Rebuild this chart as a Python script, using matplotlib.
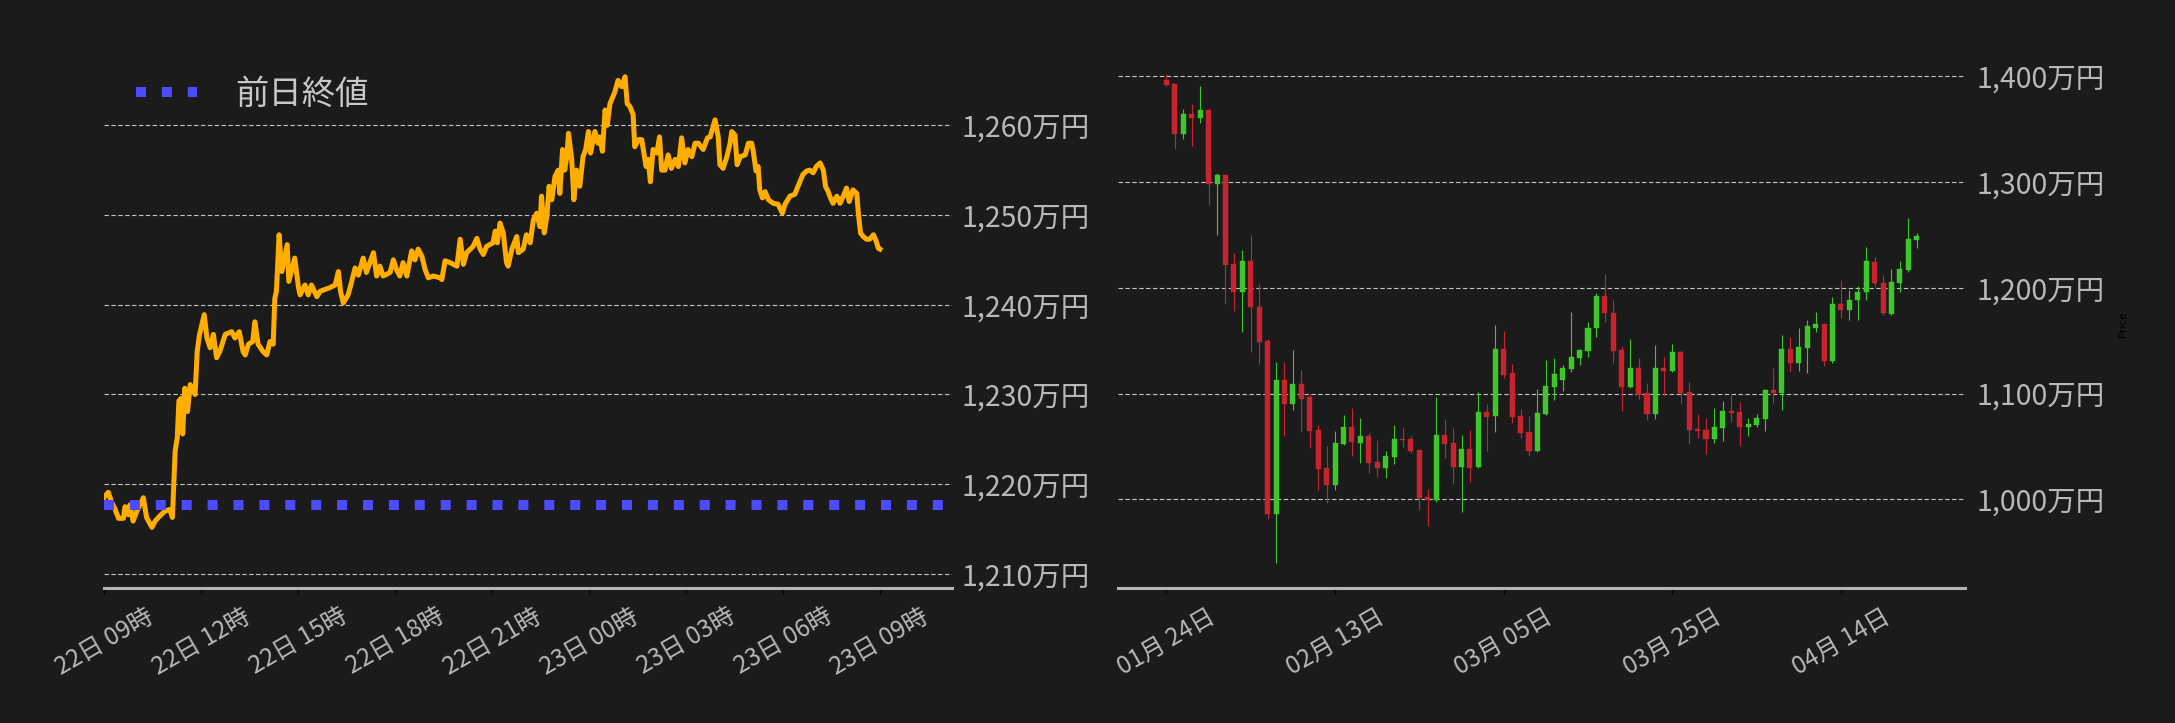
import matplotlib
matplotlib.use("Agg")
import matplotlib.pyplot as plt
import matplotlib.dates as mdates
import pandas as pd

plt.rcParams['font.family'] = ['Noto Sans CJK JP', 'DejaVu Sans']

# --- intraday (left) ---
line_start = "2025-04-22 09:00"
line_minutes = [
    0, 2, 8, 14, 20, 27, 36, 39, 45, 48, 54, 61, 73, 79, 89, 95, 104, 113, 122, 127,
    132, 136, 139, 144, 146, 150, 155, 160, 169, 173, 177, 186, 191, 197, 203, 209, 215, 225, 237, 243,
    251, 258, 262, 268, 276, 280, 286, 295, 302, 308, 314, 317, 320, 325, 330, 340, 343, 354, 361, 364,
    373, 379, 385, 395, 401, 419, 429, 435, 439, 444, 453, 458, 466, 472, 481, 487, 500, 506, 512, 518,
    531, 537, 543, 549, 555, 562, 571, 577, 583, 590, 596, 602, 611, 624, 627, 633, 642, 655, 661, 667,
    673, 685, 692, 698, 704, 710, 722, 726, 730, 735, 741, 747, 750, 757, 766, 769, 778, 784, 791, 797,
    803, 809, 812, 817, 822, 826, 831, 837, 843, 846, 851, 855, 859, 862, 865, 868, 872, 877, 883, 889,
    894, 899, 903, 911, 917, 920, 925, 930, 934, 939, 948, 954, 961, 967, 969, 971, 976, 982, 985, 992,
    998, 1001, 1006, 1010, 1014, 1019, 1026, 1031, 1035, 1041, 1047, 1053, 1060, 1066, 1072, 1078, 1084, 1091, 1097, 1103,
    1112, 1120, 1125, 1134, 1140, 1143, 1149, 1156, 1162, 1165, 1171, 1175, 1181, 1190, 1196, 1202, 1205, 1210, 1214, 1217,
    1222, 1227, 1233, 1242, 1251, 1259, 1264, 1273, 1282, 1288, 1297, 1304, 1310, 1316, 1322, 1329, 1335, 1339, 1344, 1347,
    1353, 1360, 1366, 1372, 1378, 1383, 1390, 1397, 1400, 1404, 1409, 1415, 1421, 1428, 1433, 1437, 1440,
]
line_prices = [
    1218.5, 1218.7, 1219.1, 1218.0, 1217.3, 1216.2, 1216.2, 1217.5, 1216.6, 1217.7, 1215.9, 1217.0, 1218.5, 1216.3, 1215.2, 1215.9, 1216.5, 1217.0, 1217.2, 1216.3,
    1223.7, 1225.2, 1229.3, 1229.6, 1225.6, 1230.7, 1228.1, 1231.1, 1230.0, 1234.8, 1236.6, 1238.9, 1236.3, 1235.2, 1236.7, 1234.1, 1234.8, 1236.7, 1237.0, 1236.3,
    1237.0, 1234.8, 1234.4, 1235.6, 1235.9, 1238.1, 1235.6, 1234.8, 1234.4, 1235.9, 1235.6, 1240.7, 1241.5, 1247.8, 1243.7, 1246.7, 1242.6, 1245.2, 1241.9, 1241.1,
    1242.2, 1241.1, 1242.2, 1240.9, 1241.5, 1241.9, 1242.2, 1243.7, 1241.5, 1240.2, 1241.1, 1242.2, 1244.1, 1243.3, 1245.2, 1243.6, 1245.8, 1243.2, 1244.3, 1243.2,
    1243.6, 1245.0, 1243.9, 1243.2, 1244.7, 1243.2, 1246.0, 1245.0, 1246.2, 1245.4, 1243.9, 1243.0, 1243.2, 1243.0, 1242.8, 1244.9, 1244.7, 1244.3, 1247.3, 1244.5,
    1245.8, 1246.5, 1247.4, 1246.2, 1245.6, 1246.5, 1246.9, 1248.2, 1246.9, 1249.1, 1248.0, 1244.7, 1244.3, 1246.2, 1247.6, 1245.8, 1246.2, 1247.8, 1246.9, 1249.5,
    1250.2, 1248.7, 1252.1, 1248.0, 1249.9, 1253.2, 1251.7, 1254.3, 1255.0, 1252.4, 1257.3, 1255.0, 1256.5, 1259.1, 1257.6, 1256.2, 1251.7, 1255.0, 1253.2, 1256.5,
    1257.3, 1259.3, 1256.9, 1259.3, 1258.0, 1258.7, 1257.1, 1261.7, 1260.0, 1262.4, 1263.7, 1265.0, 1264.3, 1265.4, 1263.9, 1262.4, 1262.1, 1261.2, 1257.6, 1258.4,
    1258.4, 1257.3, 1255.4, 1256.2, 1253.7, 1257.3, 1256.9, 1258.7, 1255.0, 1255.0, 1256.7, 1255.2, 1256.2, 1255.4, 1258.6, 1255.8, 1257.3, 1256.5, 1258.0, 1258.0,
    1257.3, 1258.6, 1258.7, 1260.6, 1258.7, 1255.6, 1255.2, 1256.5, 1258.0, 1259.3, 1258.9, 1255.6, 1256.5, 1256.7, 1258.0, 1258.0, 1257.1, 1254.9, 1255.4, 1252.8,
    1251.9, 1252.6, 1251.7, 1251.3, 1251.2, 1250.2, 1251.2, 1252.1, 1252.3, 1253.2, 1254.5, 1254.9, 1255.0, 1254.7, 1255.4, 1255.8, 1255.0, 1253.2, 1252.6, 1252.1,
    1251.3, 1252.1, 1251.3, 1252.1, 1253.0, 1251.5, 1252.8, 1252.4, 1250.2, 1248.0, 1247.6, 1247.3, 1247.3, 1247.8, 1247.1, 1246.3, 1246.2,
]
prev_close = 1217.7
left_yticks = [1210, 1220, 1230, 1240, 1250, 1260]

# --- daily candles (right) ---
candle_start = "2025-01-24"
opens = [
    1396.9, 1392.5, 1345.6, 1364.2, 1360.7, 1368.0, 1298.5, 1306.7, 1222.8, 1195.8,
    1225.6, 1182.2, 1149.3, 986.5, 1112.5, 1090.2, 1108.7, 1096.5, 1065.4, 1029.5,
    1013.8, 1052.2, 1068.2, 1053.4, 1059.7, 1035.2, 1029.9, 1040.2, 1056.9, 1056.9,
    1046.5, 1002.2, 999.7, 1060.7, 1053.1, 1030.8, 1047.4, 1030.8, 1082.3, 1078.9,
    1141.7, 1119.1, 1078.6, 1063.5, 1045.9, 1080.7, 1106.2, 1112.5, 1122.8, 1133.5,
    1139.8, 1161.8, 1192.6, 1176.6, 1140.8, 1106.2, 1123.8, 1100.6, 1080.7, 1123.8,
    1121.3, 1138.9, 1101.2, 1066.3, 1065.4, 1056.9, 1067.3, 1083.6, 1082.3, 1068.5,
    1070.1, 1075.7, 1103.1, 1100.2, 1141.7, 1128.5, 1142.9, 1162.1, 1165.3, 1130.4,
    1185.1, 1178.8, 1188.2, 1195.8, 1224.7, 1204.9, 1175.6, 1204.9, 1217.1, 1245.4,
]
highs = [
    1401.9, 1392.5, 1369.5, 1374.2, 1390.6, 1368.6, 1308.2, 1306.7, 1233.2, 1235.7,
    1250.1, 1203.9, 1151.1, 1130.1, 1129.5, 1141.4, 1121.9, 1099.9, 1070.1, 1050.3,
    1064.1, 1080.1, 1086.7, 1077.3, 1062.5, 1055.9, 1045.9, 1069.8, 1067.2, 1059.7,
    1046.5, 1009.7, 1097.1, 1075.7, 1067.2, 1060.7, 1065.4, 1101.8, 1089.9, 1165.0,
    1159.6, 1127.6, 1085.2, 1078.6, 1104.6, 1131.9, 1133.9, 1126.6, 1177.2, 1141.7,
    1167.8, 1195.1, 1213.4, 1188.8, 1144.5, 1151.8, 1133.2, 1109.7, 1145.5, 1134.2,
    1146.4, 1139.8, 1110.6, 1080.4, 1076.7, 1086.7, 1092.7, 1098.4, 1092.0, 1077.3,
    1080.4, 1104.6, 1123.8, 1155.5, 1153.9, 1162.1, 1169.7, 1177.2, 1166.8, 1191.7,
    1207.7, 1198.3, 1201.7, 1238.5, 1229.4, 1212.4, 1217.8, 1225.6, 1266.1, 1251.7,
]
lows = [
    1391.2, 1331.5, 1340.3, 1334.3, 1356.0, 1278.7, 1249.5, 1184.4, 1177.8, 1158.1,
    1139.2, 1127.9, 981.5, 939.3, 1059.9, 1084.8, 1063.8, 1048.7, 1009.1, 996.9,
    1008.5, 1051.5, 1041.2, 1033.9, 1025.1, 1021.4, 1019.8, 1033.0, 1049.6, 1043.4,
    990.3, 975.2, 997.8, 1039.3, 1014.7, 988.4, 1016.6, 1029.2, 1045.9, 1063.2,
    1114.7, 1072.6, 1058.1, 1041.2, 1044.9, 1079.5, 1094.3, 1102.7, 1120.3, 1127.3,
    1134.5, 1153.7, 1167.2, 1128.8, 1083.6, 1105.3, 1094.9, 1075.1, 1076.0, 1098.7,
    1120.3, 1090.2, 1052.5, 1058.1, 1042.7, 1052.8, 1055.3, 1073.2, 1050.3, 1060.0,
    1068.5, 1064.7, 1091.1, 1084.5, 1120.3, 1121.3, 1119.4, 1158.1, 1126.0, 1128.5,
    1171.3, 1169.4, 1169.7, 1188.2, 1200.5, 1174.7, 1174.7, 1195.8, 1214.9, 1237.2,
]
closes = [
    1391.8, 1345.6, 1364.2, 1360.7, 1368.0, 1298.5, 1306.7, 1221.2, 1195.8, 1225.6,
    1181.6, 1148.6, 986.5, 1112.5, 1090.2, 1108.7, 1094.9, 1064.7, 1028.9, 1013.8,
    1053.1, 1068.2, 1054.4, 1059.7, 1034.6, 1029.9, 1040.8, 1056.9, 1055.9, 1045.9,
    1001.6, 999.7, 1060.7, 1052.5, 1030.8, 1047.4, 1029.9, 1082.3, 1077.9, 1141.7,
    1117.5, 1077.9, 1062.8, 1045.9, 1081.4, 1106.8, 1118.1, 1123.8, 1134.2, 1140.8,
    1162.4, 1192.6, 1175.9, 1139.8, 1106.2, 1123.8, 1098.7, 1080.7, 1123.8, 1121.3,
    1138.9, 1100.6, 1065.7, 1064.4, 1056.9, 1068.2, 1083.3, 1081.4, 1068.2, 1071.0,
    1076.7, 1103.1, 1100.2, 1141.7, 1128.5, 1143.6, 1163.4, 1165.3, 1130.4, 1185.1,
    1178.8, 1188.8, 1196.4, 1225.6, 1204.2, 1176.6, 1205.8, 1218.1, 1246.3, 1249.2,
]
right_yticks = [1000, 1100, 1200, 1300, 1400]
right_xticks = ["2025-01-24", "2025-02-13", "2025-03-05", "2025-03-25", "2025-04-14"]

BG = "#1b1b1b"
TXT = "#b8b8b8"
GRID = "#c4c4c4"
UP, DOWN = "#3ec72b", "#c8242f"

W, H = 2175, 723


def rect(x0, x1, y0, y1):
    return [x0 / W, 1 - y1 / H, (x1 - x0) / W, (y1 - y0) / H]


def style_axis(ax, pad):
    ax.set_facecolor(BG)
    for s in ("top", "left", "right"):
        ax.spines[s].set_visible(False)
    ax.spines["bottom"].set_color("#b4b4b4")
    ax.spines["bottom"].set_linewidth(2.2)
    ax.yaxis.tick_right()
    ax.grid(axis="y", color=GRID, linestyle=(0, (4, 2.2)), linewidth=0.8)
    ax.set_axisbelow(True)
    ax.tick_params(axis="y", length=0, pad=pad, labelsize=20.5, labelcolor=TXT)
    ax.tick_params(axis="x", length=4, width=1, color="#050505", pad=7,
                   labelsize=17.5, labelcolor=TXT, labelrotation=30)


fig = plt.figure(figsize=(W / 100, H / 100), dpi=100, facecolor=BG)
ax1 = fig.add_axes(rect(104, 952, 60, 588))
ax2 = fig.add_axes(rect(1118, 1965, 60, 588))

# left: intraday line
t0 = pd.Timestamp(line_start)
times = t0 + pd.to_timedelta(line_minutes, unit="m")
style_axis(ax1, 6.5)
ax1.plot(times, line_prices, color="#ffae00", lw=3.6, solid_joinstyle="round", zorder=3)
ax1.axhline(prev_close, color="#4b4bff", lw=7.2, linestyle=(0, (1, 1.59)),
            label="前日終値", zorder=4)
ax1.set_xlim(t0, t0 + pd.Timedelta(hours=26.23))
ax1.set_ylim(1208.44, 1267.27)
ax1.set_yticks(left_yticks)
ax1.set_yticklabels([f"{v:,}万円" for v in left_yticks])
ax1.set_xticks(pd.date_range(t0, periods=9, freq="3h"))
ax1.xaxis.set_major_formatter(mdates.DateFormatter("%d日 %H時"))
ax1.legend(loc="center left", bbox_to_anchor=(136 / W, 1 - 94 / H),
           bbox_transform=fig.transFigure, frameon=False, fontsize=24,
           handlelength=1.84, handletextpad=1.15, borderpad=0,
           borderaxespad=0, labelcolor="#c8c8c8")

# right: daily candles
days = mdates.date2num(pd.date_range(candle_start, periods=len(opens), freq="D"))
style_axis(ax2, 8.5)
cols = [UP if c >= o else DOWN for o, c in zip(opens, closes)]
ax2.vlines(days, lows, highs, colors=cols, lw=0.8, zorder=2)
bottoms = [min(o, c) for o, c in zip(opens, closes)]
heights = [max(abs(c - o), 0.6) for o, c in zip(opens, closes)]
ax2.bar(days, heights, bottom=bottoms, width=0.6, color=cols,
        edgecolor=cols, linewidth=0.3, zorder=3)
d0 = mdates.date2num(pd.Timestamp(candle_start))
ax2.set_xlim(d0 - 5.75, d0 + 94.72)
ax2.set_ylim(916.1, 1415.4)
ax2.set_yticks(right_yticks)
ax2.set_yticklabels([f"{v:,}万円" for v in right_yticks])
ax2.set_xticks(mdates.date2num(pd.to_datetime(right_xticks)))
ax2.xaxis.set_major_formatter(mdates.DateFormatter("%m月 %d日"))
ax2.yaxis.set_label_position("right")
ax2.set_ylabel("Price", color="#000000", fontsize=8, labelpad=9)

fig.savefig("out.png", dpi=100, facecolor=BG)
